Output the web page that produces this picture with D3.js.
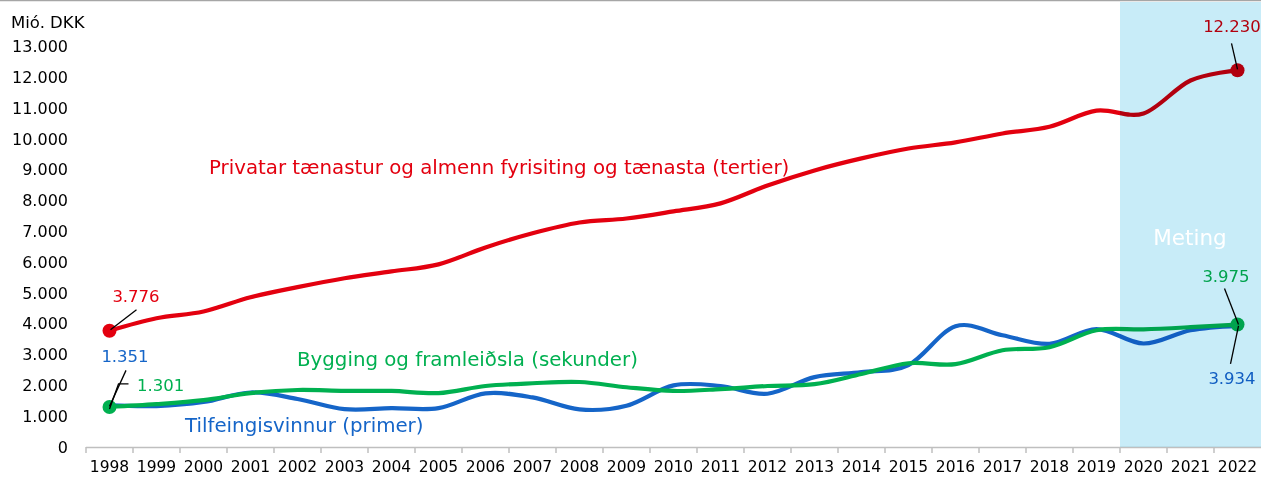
<!DOCTYPE html>
<html>
<head>
<meta charset="utf-8">
<script src="https://cdn.jsdelivr.net/npm/d3@7"></script>
<style>
  html, body { margin: 0; padding: 0; background: #fff; }
  svg { display: block; font-family: "DejaVu Sans", Verdana, sans-serif; }
</style>
</head>
<body>
<svg id="chart" width="1261" height="478"></svg>
<script>
// ---- DATA ----
const years = ["1998","1999","2000","2001","2002","2003","2004","2005","2006","2007","2008","2009","2010","2011","2012","2013","2014","2015","2016","2017","2018","2019","2020","2021","2022"];
const tertiary = [3776,4180,4400,4860,5190,5480,5700,5930,6480,6940,7290,7420,7650,7910,8490,8980,9370,9690,9890,10180,10400,10920,10830,11900,12230];
const secondary = [1301,1390,1520,1750,1850,1820,1820,1750,1980,2070,2110,1940,1820,1880,1980,2040,2370,2720,2690,3140,3240,3790,3820,3890,3975];
const primary = [1351,1330,1460,1770,1560,1230,1260,1260,1740,1610,1220,1340,2000,1980,1730,2270,2430,2660,3920,3630,3350,3830,3360,3790,3934];
const yTicks = [0,1000,2000,3000,4000,5000,6000,7000,8000,9000,10000,11000,12000,13000];
const forecastStart = "2020";
const unitLabel = "Mió. DKK";
const forecastLabel = "Meting";
const seriesNames = {
  tertiary: "Privatar tænastur og almenn fyrisiting og tænasta (tertier)",
  secondary: "Bygging og framleiðsla (sekunder)",
  primary: "Tilfeingisvinnur (primer)"
};

(function () {
const svg = d3.select("#chart");
const W = 1261;
const mLeft = 86, mRight = 1261, mTop = 46.6, mBottom = 447;

const x = d3.scaleBand().domain(years).range([mLeft, mRight]).padding(0);
const cx = d => x(d) + x.bandwidth() / 2;
const y = d3.scaleLinear().domain([0, 13000]).range([mBottom, mTop]);

const RED = "#e3000f", GREEN = "#00b050", BLUE = "#1565c8";
const fmt = v => d3.format(",")(v).replace(/,/g, ".");

// top border
svg.append("line").attr("x1", 0).attr("x2", W).attr("y1", 0.5).attr("y2", 0.5)
  .attr("stroke", "#a6a6a6").attr("stroke-width", 1.5);

// y axis
const yAxis = svg.append("g").attr("transform", `translate(68,0)`)
  .call(d3.axisLeft(y).tickValues(yTicks).tickSize(0).tickPadding(0).tickFormat(fmt));
yAxis.select(".domain").remove();
yAxis.selectAll("text").attr("font-size", 16).attr("fill", "#000")
  .attr("font-family", "DejaVu Sans, Verdana, sans-serif");

svg.append("text").attr("x", 11).attr("y", 28).attr("font-size", 16.5).attr("fill", "#000").text(unitLabel);

// x axis
const xAxis = svg.append("g").attr("transform", `translate(0,${mBottom})`)
  .call(d3.axisBottom(x).tickSize(0).tickPadding(14));
xAxis.select(".domain").remove();
xAxis.selectAll("text").attr("font-size", 15.5).attr("fill", "#000")
  .attr("font-family", "DejaVu Sans, Verdana, sans-serif");

svg.append("line").attr("x1", mLeft).attr("x2", mRight).attr("y1", mBottom + 0.5).attr("y2", mBottom + 0.5)
  .attr("stroke", "#bfbfbf").attr("stroke-width", 1.5);
svg.append("g").selectAll("line").data(years).join("line")
  .attr("x1", d => x(d)).attr("x2", d => x(d))
  .attr("y1", mBottom).attr("y2", mBottom + 6)
  .attr("stroke", "#bfbfbf").attr("stroke-width", 1.5);

// lines
const line = d3.line().x((d, i) => cx(years[i])).y(d => y(d)).curve(d3.curveCardinal.tension(0));
const series = [
  { key: "primary", vals: primary, color: BLUE },
  { key: "secondary", vals: secondary, color: GREEN },
  { key: "tertiary", vals: tertiary, color: RED }
];
series.forEach(s => {
  svg.append("path").datum(s.vals).attr("d", line)
    .attr("fill", "none").attr("stroke", s.color).attr("stroke-width", 4.2)
    .attr("stroke-linejoin", "round").attr("stroke-linecap", "round");
});

// endpoint markers
const first = years[0], last = years[years.length - 1];
const n = years.length - 1;
const markers = [
  { yr: first, v: tertiary[0], c: RED },
  { yr: first, v: secondary[0], c: GREEN },
  { yr: last, v: tertiary[n], c: RED },
  { yr: last, v: secondary[n], c: GREEN }
];
svg.append("g").selectAll("circle").data(markers).join("circle")
  .attr("cx", d => cx(d.yr)).attr("cy", d => y(d.v)).attr("r", 7).attr("fill", d => d.c);

// leader lines and value labels
const px = cx(first), pxe = cx(last);
const leader = (pts) => svg.append("polyline").attr("points", pts.map(p => p.join(",")).join(" "))
  .attr("fill", "none").attr("stroke", "#000").attr("stroke-width", 1.3);
leader([[px + 27, y(tertiary[0]) - 21], [px + 1, y(tertiary[0]) - 1]]);
leader([[px + 16.5, y(primary[0]) - 35], [px, y(primary[0]) + 1]]);
leader([[px + 19, y(secondary[0]) - 23], [px + 9, y(secondary[0]) - 23], [px, y(secondary[0]) + 2]]);
leader([[pxe - 6, y(tertiary[n]) - 27], [pxe, y(tertiary[n]) - 1]]);
leader([[pxe - 13, y(secondary[n]) - 36], [pxe + 1, y(secondary[n])]]);
leader([[pxe - 7, y(primary[n]) + 38], [pxe + 1, y(primary[n])]]);

const valLabel = (xx, yy, txt, c, anchor) => svg.append("text").attr("x", xx).attr("y", yy)
  .attr("font-size", 16.5).attr("fill", c).attr("text-anchor", anchor || "middle").text(txt);
valLabel(136, 302, fmt(tertiary[0]), RED);
valLabel(125, 362, fmt(primary[0]), BLUE);
valLabel(137, 391, fmt(secondary[0]), GREEN, "start");
valLabel(1232, 32, fmt(tertiary[n]), RED);
valLabel(1226, 282, fmt(secondary[n]), GREEN);
valLabel(1232, 384, fmt(primary[n]), BLUE);

// series labels
svg.append("text").attr("x", 209).attr("y", 174).attr("font-size", 19.8).attr("fill", RED).text(seriesNames.tertiary);
svg.append("text").attr("x", 297).attr("y", 366).attr("font-size", 19.8).attr("fill", GREEN).text(seriesNames.secondary);
svg.append("text").attr("x", 185).attr("y", 432).attr("font-size", 19.8).attr("fill", BLUE).text(seriesNames.primary);

// forecast band (multiply overlay)
svg.append("rect").attr("x", x(forecastStart)).attr("y", 2)
  .attr("width", mRight - x(forecastStart)).attr("height", mBottom - 2)
  .attr("fill", "#c8ecf8").style("mix-blend-mode", "multiply");
svg.append("text").attr("x", 1190).attr("y", 245).attr("font-size", 21.5).attr("fill", "#ffffff")
  .attr("text-anchor", "middle").text(forecastLabel);
})();
</script>
</body>
</html>
